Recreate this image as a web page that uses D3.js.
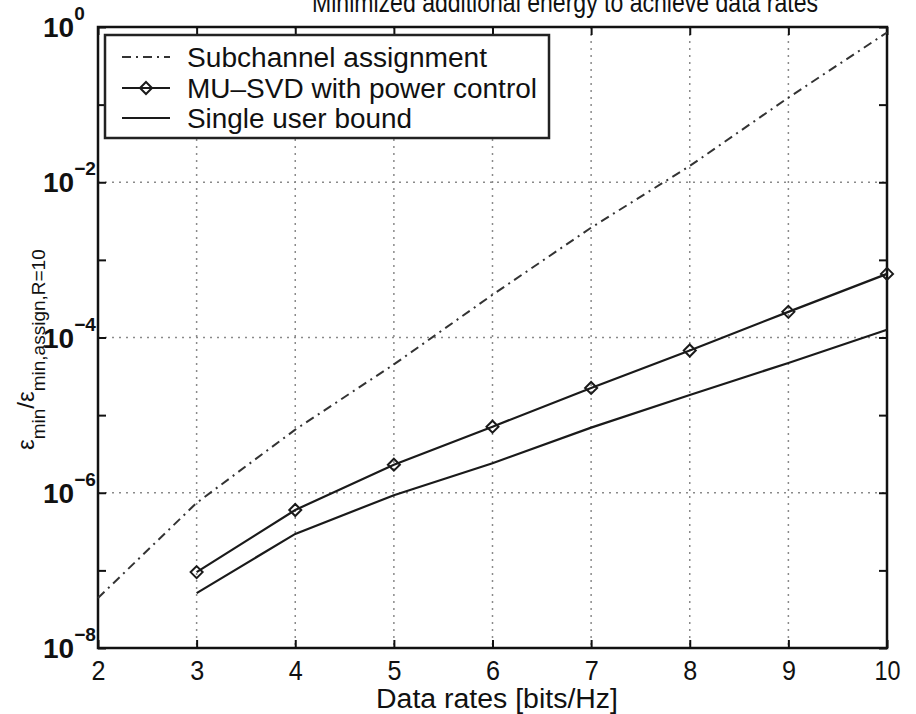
<!DOCTYPE html>
<html>
<head>
<meta charset="utf-8">
<script src="https://cdn.jsdelivr.net/npm/d3@7"></script>
<style>
  html, body { margin: 0; padding: 0; background: #fff; }
  svg { display: block; }
  text { font-family: "Liberation Sans", Arial, Helvetica, sans-serif; fill: #111; }
</style>
</head>
<body>
<svg id="chart" width="916" height="714"></svg>
<script>
// ---- data ----
const rates = [2, 3, 4, 5, 6, 7, 8, 9, 10];
const subchannel = [4.4e-8, 7.4e-7, 6.5e-6, 4.5e-5, 3.55e-4, 2.6e-3, 1.62e-2, 1.23e-1, 8.5e-1];
const muRates = [3, 4, 5, 6, 7, 8, 9, 10];
const muSvd = [9.5e-8, 6.0e-7, 2.3e-6, 7.1e-6, 2.24e-5, 6.8e-5, 2.14e-4, 6.6e-4];
const suRates = [3, 4, 5, 6, 7, 8, 9, 10];
const singleUser = [5.1e-8, 2.95e-7, 9.3e-7, 2.4e-6, 6.9e-6, 1.82e-5, 4.7e-5, 1.26e-4];

const xTicks = [2, 3, 4, 5, 6, 7, 8, 9, 10];
const yDecades = [1e-8, 1e-7, 1e-6, 1e-5, 1e-4, 1e-3, 1e-2, 1e-1, 1];
const yLabelTicks = [1e-8, 1e-6, 1e-4, 1e-2, 1];
const yLabelExp = ["\u22128", "\u22126", "\u22124", "\u22122", "0"];
const legendNames = ["Subchannel assignment", "MU\u2013SVD with power control", "Single user bound"];
const titleText = "Minimized additional energy to achieve data rates";
const xTitle = "Data rates [bits/Hz]";

// ---- layout ----
const L = 98, R = 887, T = 27, B = 648;
const svg = d3.select("#chart");

const x = d3.scaleLinear().domain([2, 10]).range([L, R]);
const y = d3.scaleLog().domain([1e-8, 1]).range([B, T]);

// title (cropped at the top, as in the reference)
svg.append("text")
  .attr("x", 312).attr("y", 12)
  .attr("font-size", 28)
  .attr("textLength", 506).attr("lengthAdjust", "spacingAndGlyphs")
  .text(titleText);

// grid
const grid = svg.append("g").attr("stroke", "#8a8a8a").attr("stroke-width", 1.5)
  .attr("stroke-dasharray", "2,5").attr("fill", "none");
grid.selectAll("line.gx").data(xTicks.filter(d => d > 2 && d < 10)).join("line")
  .attr("x1", d => x(d)).attr("x2", d => x(d)).attr("y1", T).attr("y2", B);
grid.selectAll("line.gy").data([1e-6, 1e-4, 1e-2]).join("line")
  .attr("x1", L).attr("x2", R).attr("y1", d => y(d)).attr("y2", d => y(d));

// axes with inward ticks
const xAxisB = d3.axisBottom(x).tickValues(xTicks).tickSize(-8).tickPadding(12).tickFormat(d3.format("d"));
const gxb = svg.append("g").attr("transform", `translate(0,${B})`).call(xAxisB);
gxb.select(".domain").remove();
gxb.selectAll("line").attr("stroke", "#111").attr("stroke-width", 2);
gxb.selectAll("text").attr("font-size", 28).attr("fill", "#111")
  .style("font-family", '"Liberation Sans", Arial, sans-serif')
  .attr("textLength", d => d >= 10 ? 26 : 14).attr("lengthAdjust", "spacingAndGlyphs");

const xAxisT = d3.axisTop(x).tickValues(xTicks).tickSize(-8).tickFormat("");
const gxt = svg.append("g").attr("transform", `translate(0,${T})`).call(xAxisT);
gxt.select(".domain").remove();
gxt.selectAll("line").attr("stroke", "#111").attr("stroke-width", 2);

const yAxisL = d3.axisLeft(y).tickValues(yDecades).tickSize(-8).tickFormat("");
const gyl = svg.append("g").attr("transform", `translate(${L},0)`).call(yAxisL);
gyl.select(".domain").remove();
gyl.selectAll("line").attr("stroke", "#111").attr("stroke-width", 2);

const yAxisR = d3.axisRight(y).tickValues(yDecades).tickSize(-8).tickFormat("");
const gyr = svg.append("g").attr("transform", `translate(${R},0)`).call(yAxisR);
gyr.select(".domain").remove();
gyr.selectAll("line").attr("stroke", "#111").attr("stroke-width", 2);

// y tick labels 10^k (one text with a superscript tspan)
const yl = svg.append("g");
yLabelTicks.forEach((v, i) => {
  const t = yl.append("text").attr("x", 43).attr("y", y(v) + 10)
    .attr("font-weight", "bold");
  t.append("tspan").attr("font-size", 28).text("10");
  t.append("tspan").attr("dy", -17).attr("font-size", 19).text(yLabelExp[i]);
});

// frame
svg.append("rect").attr("x", L).attr("y", T).attr("width", R - L).attr("height", B - T)
  .attr("fill", "none").attr("stroke", "#111").attr("stroke-width", 2.5);

// lines
const line = d3.line().x(d => x(d[0])).y(d => y(d[1]));
svg.append("path").datum(rates.map((r, i) => [r, subchannel[i]]))
  .attr("d", line).attr("fill", "none").attr("stroke", "#333").attr("stroke-width", 2)
  .attr("stroke-dasharray", "9,5,2,5");
svg.append("path").datum(muRates.map((r, i) => [r, muSvd[i]]))
  .attr("d", line).attr("fill", "none").attr("stroke", "#1a1a1a").attr("stroke-width", 2.2);
svg.append("path").datum(suRates.map((r, i) => [r, singleUser[i]]))
  .attr("d", line).attr("fill", "none").attr("stroke", "#1a1a1a").attr("stroke-width", 2.2);

const diamond = (cx, cy, s) => `M${cx},${cy - s}L${cx + s},${cy}L${cx},${cy + s}L${cx - s},${cy}Z`;
svg.append("g").selectAll("path").data(muRates.map((r, i) => [r, muSvd[i]])).join("path")
  .attr("d", d => diamond(x(d[0]), y(d[1]), 6))
  .attr("fill", "none").attr("stroke", "#1a1a1a").attr("stroke-width", 2);

// legend
const lg = svg.append("g");
lg.append("rect").attr("x", 105).attr("y", 35).attr("width", 444).attr("height", 103)
  .attr("fill", "#fff").attr("stroke", "#222").attr("stroke-width", 2.5);
const rowY = [57, 88, 118];
const widths = [300, 350, 225];
legendNames.forEach((name, i) => {
  const ln = lg.append("line").attr("x1", 122).attr("x2", 170).attr("y1", rowY[i]).attr("y2", rowY[i])
    .attr("stroke", i === 0 ? "#333" : "#1a1a1a").attr("stroke-width", 2);
  if (i === 0) ln.attr("stroke-dasharray", "9,5,2,5");
  if (i === 1) lg.append("path").attr("d", diamond(146, rowY[i], 6))
    .attr("fill", "none").attr("stroke", "#1a1a1a").attr("stroke-width", 2);
  lg.append("text").attr("x", 187).attr("y", rowY[i] + 10)
    .attr("font-size", 27)
    .attr("textLength", widths[i]).attr("lengthAdjust", "spacingAndGlyphs")
    .text(name);
});

// x label
svg.append("text").attr("x", 376).attr("y", 708)
  .attr("font-size", 27)
  .attr("textLength", 242).attr("lengthAdjust", "spacingAndGlyphs")
  .text(xTitle);

// y label: ε_min / ε_min,assign,R=10 (rotated)
const yt = svg.append("text")
  .attr("transform", "translate(34,450) rotate(-90)")
  .attr("font-size", 24);
yt.append("tspan").text("\u03B5");
yt.append("tspan").attr("dy", 11).attr("font-size", 19).text("min");
yt.append("tspan").attr("dy", -11).text("/\u03B5");
yt.append("tspan").attr("dy", 11).attr("font-size", 19).text("min,assign,R=10");
</script>
</body>
</html>
